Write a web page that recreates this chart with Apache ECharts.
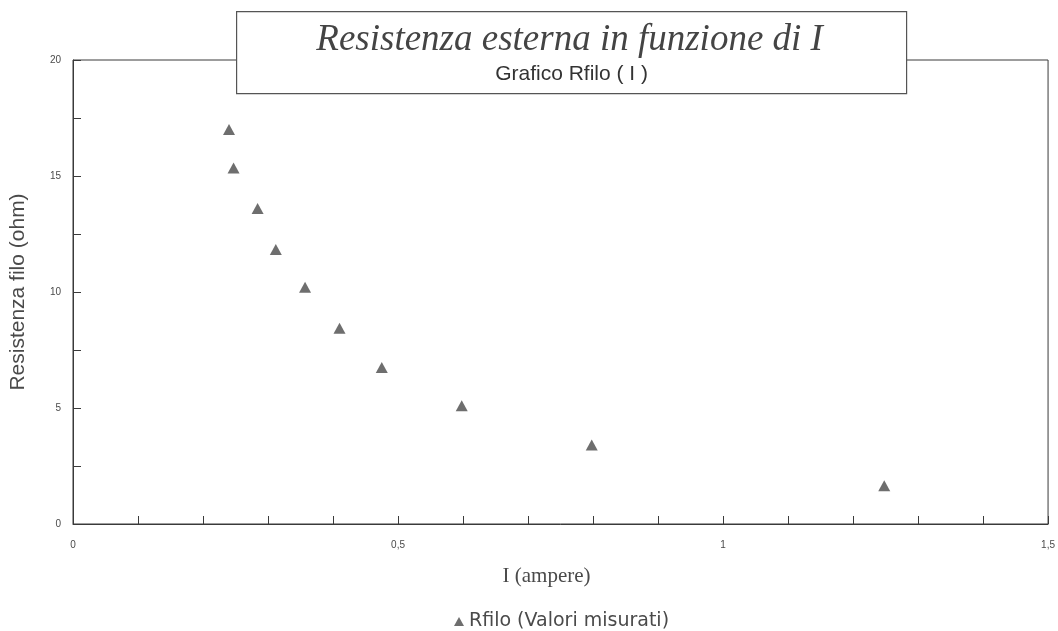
<!DOCTYPE html>
<html>
<head>
<meta charset="utf-8">
<script src="https://cdn.jsdelivr.net/npm/echarts@6/dist/echarts.min.js"></script>
<style>
  html, body { margin: 0; padding: 0; background: #fff; }
  #chart { width: 1058px; height: 631px; }
</style>
</head>
<body>
<div id="chart"></div>
<script>
// Measured current (A) and wire resistance (ohm)
const currentA = [0.240, 0.247, 0.284, 0.312, 0.357, 0.410, 0.475, 0.598, 0.798, 1.248];
const resistanceOhm = [17.0, 15.35, 13.6, 11.83, 10.2, 8.44, 6.75, 5.1, 3.4, 1.65];

const titleText = 'Resistenza esterna in funzione di I';
const subtitleText = 'Grafico Rfilo ( I )';
const seriesName = 'Rfilo (Valori misurati)';
const xName = 'I (ampere)';
const yName = 'Resistenza filo (ohm)';

const points = currentA.map((x, i) => [x, resistanceOhm[i]]);
const comma = v => String(v).replace('.', ',');

const ink = '#3a3a3a';
const textGray = '#4a4a4a';

const chart = echarts.init(document.getElementById('chart'), null, { renderer: 'canvas' });
chart.setOption({
  backgroundColor: '#ffffff',
  animation: false,
  grid: {
    left: 73, right: 9, top: 60, bottom: 107,
    show: true, borderColor: ink, borderWidth: 1, backgroundColor: 'transparent'
  },
  legend: {
    top: 607, left: 449,
    itemWidth: 10, itemHeight: 9, itemGap: 10,
    textStyle: { fontFamily: 'DejaVu Sans, Verdana, sans-serif', fontSize: 19, color: textGray },
    data: [{ name: seriesName, icon: 'triangle' }]
  },
  xAxis: {
    type: 'value', min: 0, max: 1.5, interval: 0.5,
    name: xName, nameLocation: 'middle', nameGap: 42,
    nameTextStyle: {
      fontFamily: 'Liberation Serif, Times New Roman, serif', fontSize: 21, color: textGray,
      padding: [0, 28, 0, 0]
    },
    axisLine: { show: true, lineStyle: { color: ink, width: 1 } },
    axisTick: { show: true, inside: true, length: 8, lineStyle: { color: ink } },
    minorTick: { show: true, splitNumber: 5, length: 8, lineStyle: { color: ink } },
    splitLine: { show: false },
    axisLabel: {
      margin: 16, fontSize: 10, color: textGray,
      fontFamily: 'Liberation Sans, Arial, sans-serif',
      formatter: v => comma(v)
    }
  },
  yAxis: {
    type: 'value', min: 0, max: 20, interval: 5,
    name: yName, nameLocation: 'middle', nameGap: 44, nameRotate: 90,
    nameTextStyle: { fontFamily: 'Liberation Sans, Arial, sans-serif', fontSize: 21, color: textGray },
    axisLine: { show: true, lineStyle: { color: ink, width: 1 } },
    axisTick: { show: true, inside: true, length: 8, lineStyle: { color: ink } },
    minorTick: { show: true, splitNumber: 2, length: 8, lineStyle: { color: ink } },
    splitLine: { show: false },
    axisLabel: {
      margin: 12, fontSize: 10, color: textGray,
      fontFamily: 'Liberation Sans, Arial, sans-serif'
    }
  },
  series: [{
    name: seriesName,
    type: 'scatter',
    symbol: 'triangle',
    symbolSize: [12, 11],
    itemStyle: { color: '#4a4a4a' },
    data: points
  }],
  graphic: [{
    type: 'group',
    left: 236, top: 11,
    children: [{
      type: 'rect',
      shape: { x: 0, y: 0, width: 670, height: 82 },
      style: { fill: '#ffffff', stroke: '#555555', lineWidth: 1.2 }
    }, {
      type: 'text',
      x: 333, y: 29,
      style: {
        text: titleText, align: 'center', verticalAlign: 'middle',
        font: 'italic 37px "Liberation Serif", "Times New Roman", serif', fill: '#444444'
      }
    }, {
      type: 'text',
      x: 335, y: 63,
      style: {
        text: subtitleText, align: 'center', verticalAlign: 'middle',
        font: '21px "Liberation Sans", Arial, sans-serif', fill: '#333333'
      }
    }]
  }]
});
</script>
</body>
</html>
